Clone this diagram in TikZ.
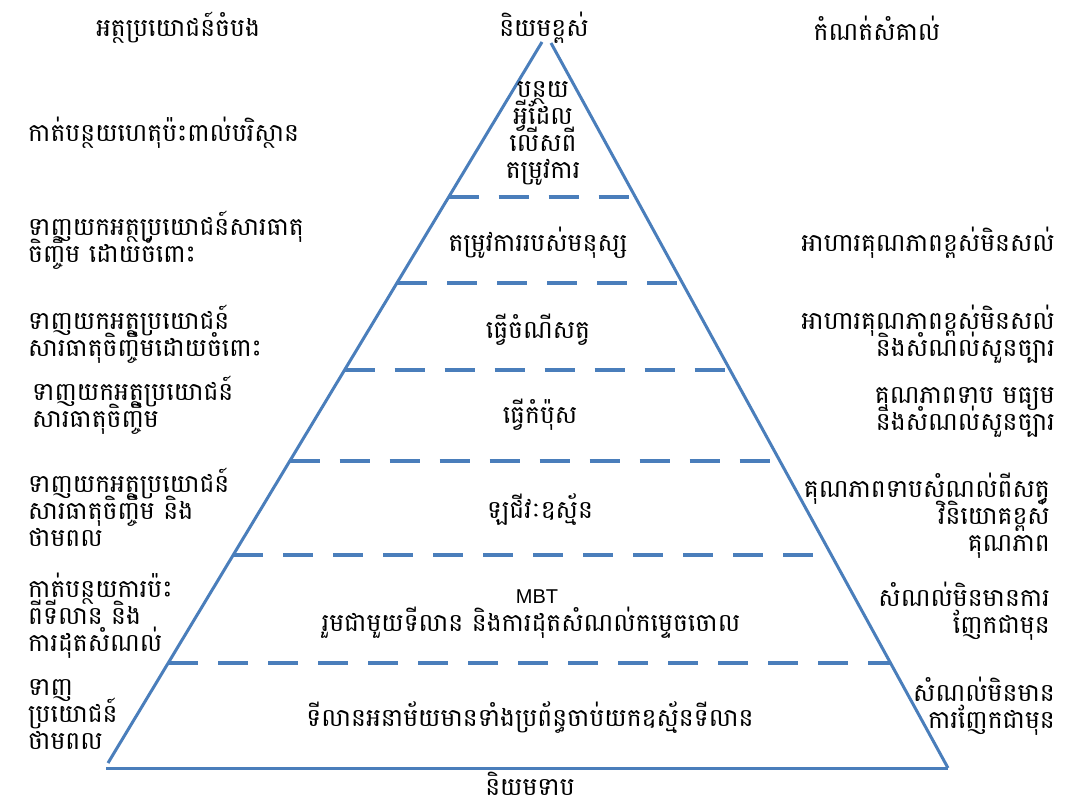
\documentclass[tikz,border=0pt]{standalone}
\usepackage{fontspec}
\newfontfamily\khmer[Script=Khmer]{Battambang}
\newfontfamily\latinsans{Liberation Sans}
\definecolor{pyrblue}{HTML}{4A7EBB}
\newcommand\khtxt{\khmer\fontsize{25}{27}\selectfont}
\begin{document}
\khmer\fontsize{25}{27}\selectfont\lineskiplimit=-30pt\relax\lineskip=0pt\relax
\begin{tikzpicture}[x=1pt,y=-1pt,
  pyr/.style={draw=pyrblue,line width=3pt},
  dsh/.style={draw=pyrblue,line width=3.5pt,dash pattern=on 30pt off 20pt},
  txt/.style={inner sep=0pt,font=\khtxt},
  lt/.style={txt,anchor=west,align=left},
  rt/.style={txt,anchor=east,align=right},
  ct/.style={txt,anchor=center,align=center}]
\useasboundingbox[fill=white] (0,0) rectangle (1081,809);
% pyramid
\coordinate (apL) at (542,42);
\coordinate (apR) at (551,43);
\coordinate (bL) at (108,763);
\coordinate (bR) at (948,768);
\coordinate (b0) at (106,768);
\draw[pyr] (apL) -- (bL);
\draw[pyr] (apR) -- (bR);
\draw[pyr] (b0) -- (bR);
% dashed levels
\draw[dsh] (448.6,197) -- (629,197);
\draw[dsh] (397,283) -- (677,283);
\draw[dsh] (344.5,370) -- (724.5,370);
\draw[dsh] (289.5,461) -- (770,461);
\draw[dsh] (233,555) -- (813,555);
\draw[dsh] (168,663) -- (891,663);
% headers
\node[ct] (hL) at (178,28) {អត្ថប្រយោជន៍ចំបង};
\node[ct] (hC) at (544,28) {និយមខ្ពស់};
\node[ct] (hR) at (877,28) {កំណត់សំគាល់};
\node[ct] (hB) at (530,784) {និយមទាប};
% left labels
\node[lt] (l1) at (28,133) {កាត់បន្ថយហេតុប៉ះពាល់បរិស្ថាន};
\node[lt] (l2) at (28,240) {ទាញយកអត្ថប្រយោជន៍សារធាតុ\\ចិញ្ចឹម ដោយចំពោះ};
\node[lt] (l3) at (28,334) {ទាញយកអត្ថប្រយោជន៍\\សារធាតុចិញ្ចឹមដោយចំពោះ};
\node[lt] (l4) at (32,405) {ទាញយកអត្ថប្រយោជន៍\\សារធាតុចិញ្ចឹម};
\node[lt] (l5) at (28,507) {ទាញយកអត្ថប្រយោជន៍\\សារធាតុចិញ្ចឹម និង\\ថាមពល};
\node[lt] (l6) at (28,616) {កាត់បន្ថយការប៉ះ\\ពីទីលាន និង\\ការដុតសំណល់};
\node[lt] (l7) at (28,715) {ទាញ\\ប្រយោជន៍\\ថាមពល};
% center labels
\node[ct] (c1) at (543,133) {បន្ថយ\\អ្វីដែល\\លើសពី\\តម្រូវការ};
\node[ct] (c2) at (538,243) {តម្រូវការរបស់មនុស្ស};
\node[ct] (c3) at (538,330) {ធ្វើចំណីសត្វ};
\node[ct] (c4) at (540,415) {ធ្វើកំប៉ុស};
\node[ct] (c5) at (540,510) {ឡជីវៈឧស្ម័ន};
\node[ct] (c6a) at (537,597) {\latinsans\fontsize{20}{20}\selectfont MBT};
\node[ct] (c6b) at (531,623) {រួមជាមួយទីលាន និងការដុតសំណល់កម្ទេចចោល};
\node[ct] (c7) at (530,718) {ទីលានអនាម័យមានទាំងប្រព័ន្ធចាប់យកឧស្ម័នទីលាន};
% right labels
\node[rt] (r1) at (1055,243) {អាហារគុណភាពខ្ពស់មិនសល់};
\node[rt] (r2) at (1055,334) {អាហារគុណភាពខ្ពស់មិនសល់\\និងសំណល់សួនច្បារ};
\node[rt] (r3) at (1055,412) {គុណភាពទាប មធ្យម\\និងសំណល់សួនច្បារ};
\node[rt] (r4) at (1050,516) {គុណភាពទាបសំណល់ពីសត្វ\\វិនិយោគខ្ពស់\\គុណភាព};
\node[rt] (r5) at (1050,611) {សំណល់មិនមានការ\\ញែកជាមុន};
\node[rt] (r6) at (1055,706) {សំណល់មិនមាន\\ការញែកជាមុន};
\end{tikzpicture}
\end{document}
